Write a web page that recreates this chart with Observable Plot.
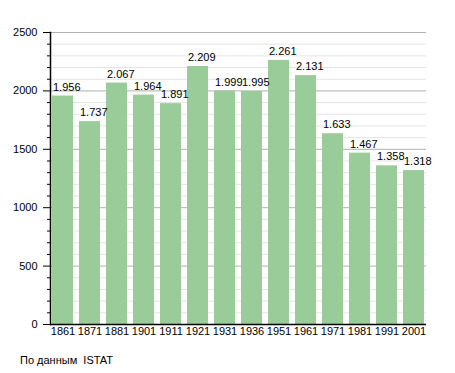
<!DOCTYPE html>
<html>
<head>
<meta charset="utf-8">
<script src="https://cdn.jsdelivr.net/npm/d3@7"></script>
<script src="https://cdn.jsdelivr.net/npm/@observablehq/plot@0.6"></script>
<style>
  body { margin: 0; background: #fff; }
  #wrap { position: relative; width: 455px; height: 373px; }
  #caption { position: absolute; left: 20px; top: 354px; font: 11px "Liberation Sans", Arial, sans-serif; color: #000; white-space: pre; }
</style>
</head>
<body>
<div id="wrap"><div id="chart"></div><div id="caption">По данным  ISTAT</div></div>
<script>
const years = ["1861","1871","1881","1901","1911","1921","1931","1936","1951","1961","1971","1981","1991","2001"];
const population = [1956, 1737, 2067, 1964, 1891, 2209, 1999, 1995, 2261, 2131, 1633, 1467, 1358, 1318];
const majorTicks = [0, 500, 1000, 1500, 2000, 2500];
const minorTicks = d3.range(100, 2500, 100).filter(v => v % 500 !== 0);

const data = years.map((y, i) => ({year: y, value: population[i]}));
const fmt = v => Math.floor(v / 1000) + "." + String(v % 1000).padStart(3, "0");

const chart = Plot.plot({
  width: 455,
  height: 345,
  marginLeft: 50,
  marginRight: 29,
  marginTop: 32,
  marginBottom: 21,
  style: {fontFamily: '"Liberation Sans", Arial, sans-serif', fontSize: "11px", color: "#000", background: "#fff"},
  x: {domain: years, paddingInner: 0.24, paddingOuter: 0.05},
  y: {domain: [0, 2500]},
  marks: [
    Plot.ruleY(minorTicks, {stroke: "#e4e4e4", strokeWidth: 1}),
    Plot.ruleY(majorTicks.filter(v => v > 0), {stroke: "#b0b0b0", strokeWidth: 1}),
    Plot.barY(data, {x: "year", y: "value", fill: "#99cc99"}),
    Plot.text(data, {x: "year", y: "value", text: d => fmt(d.value), textAnchor: "start", dx: -10, dy: -9, fill: "#000", fontSize: 11}),
    Plot.axisY(minorTicks, {tickSize: 3, text: null, label: null, stroke: "#000"}),
    Plot.axisY(majorTicks, {tickSize: 7, tickPadding: 6, tickFormat: d => String(d), label: null, stroke: "#000", fill: "#000"}),
    Plot.axisX({tickSize: 0, tickPadding: 3, label: null, fill: "#000"}),
    Plot.ruleY([0], {stroke: "#000", strokeWidth: 1.5}),
    Plot.frame({anchor: "left", stroke: "#000", strokeWidth: 1.5})
  ]
});
document.getElementById("chart").appendChild(chart);
</script>
</body>
</html>
